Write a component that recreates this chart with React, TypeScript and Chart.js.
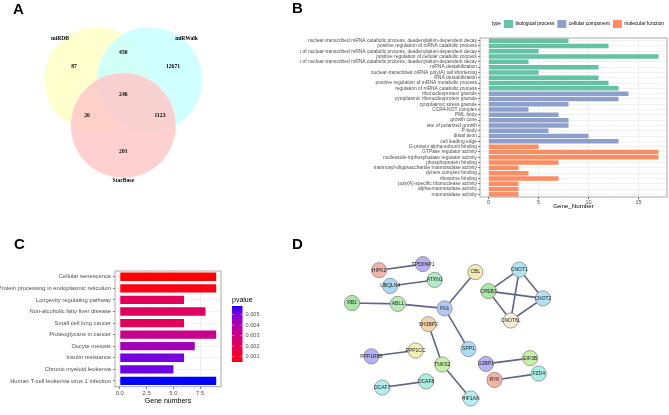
import React, { useEffect, useRef } from "react";
import { Chart, registerables } from "chart.js";
Chart.register(...registerables);
Chart.defaults.font.family = "'Liberation Sans', Arial, sans-serif";

// ---------- Panel A: Venn ----------
const vennSets = ["miRDB", "miRWalk", "StarBase"];
const vennCenterX = [-0.5, 0.5, 0];
const vennCenterY = [0.2887, 0.2887, -0.5774];
const vennRadius = 1;
const vennSetLabelX = [-1.2, 1.2, 0];
const vennSetLabelY = [1.08, 1.08, -1.63];
const vennCounts = [87, 450, 12671, 246, 26, 1123, 201];
const vennCountX = [-0.935, 0, 0.943, 0, -0.689, 0.696, 0];
const vennCountY = [0.531, 0.797, 0.531, 0, -0.398, -0.398, -1.082];

// ---------- Panel B: GO ----------
const goTerms = [
  "nuclear-transcribed mRNA catabolic process, deadenylation-dependent decay",
  "positive regulation of mRNA catabolic process",
  "regulation of nuclear-transcribed mRNA catabolic process, deadenylation-dependent decay",
  "positive regulation of cellular catabolic process",
  "positive regulation of nuclear-transcribed mRNA catabolic process, deadenylation-dependent decay",
  "mRNA destabilization",
  "nuclear-transcribed mRNA poly(A) tail shortening",
  "RNA destabilization",
  "positive regulation of mRNA metabolic process",
  "regulation of mRNA catabolic process",
  "ribonucleoprotein granule",
  "cytoplasmic ribonucleoprotein granule",
  "cytoplasmic stress granule",
  "CCR4-NOT complex",
  "PML body",
  "growth cone",
  "site of polarized growth",
  "P-body",
  "distal axon",
  "cell leading edge",
  "G-protein alpha-subunit binding",
  "GTPase regulator activity",
  "nucleoside-triphosphatase regulator activity",
  "phosphoprotein binding",
  "mannosyl-oligosaccharide mannosidase activity",
  "dynein complex binding",
  "ribosome binding",
  "poly(A)-specific ribonuclease activity",
  "alpha-mannosidase activity",
  "mannosidase activity",
];
const goCounts = [8, 12, 5, 17, 4, 11, 5, 11, 12, 13, 14, 13, 8, 4, 7, 8, 8, 6, 10, 13, 5, 17, 17, 7, 3, 4, 7, 3, 3, 3];
const goTypes = [
  "biological process", "biological process", "biological process", "biological process", "biological process",
  "biological process", "biological process", "biological process", "biological process", "biological process",
  "cellular component", "cellular component", "cellular component", "cellular component", "cellular component",
  "cellular component", "cellular component", "cellular component", "cellular component", "cellular component",
  "molecular function", "molecular function", "molecular function", "molecular function", "molecular function",
  "molecular function", "molecular function", "molecular function", "molecular function", "molecular function",
];
const goTypeNames = ["biological process", "cellular component", "molecular function"];
const goTypeColors = ["#66C2A5", "#8DA0CB", "#FC8D62"];
const goXTicks = [0, 5, 10, 15];

// ---------- Panel C: KEGG ----------
const keggTerms = [
  "Cellular senescence",
  "Protein processing in endoplasmic reticulum",
  "Longevity regulating pathway",
  "Non-alcoholic fatty liver disease",
  "Small cell lung cancer",
  "Proteoglycans in cancer",
  "Oocyte meiosis",
  "Insulin resistance",
  "Chronic myeloid leukemia",
  "Human T-cell leukemia virus 1 infection",
];
const keggCounts = [9, 9, 6, 8, 6, 9, 7, 6, 5, 9];
const keggPvalues = [0.0005, 0.0007, 0.0021, 0.0022, 0.0021, 0.0032, 0.0042, 0.0051, 0.0052, 0.0058];
const pvalueTicks = [0.001, 0.002, 0.003, 0.004, 0.005];
const keggXTicks = [0, 2.5, 5, 7.5];

// ---------- Panel D: network ----------
const nodeNames = ["HIPK2", "TP53INP1", "UBQLN4", "ATXN1", "RB1", "ABL1", "FN1", "CBL", "SH3BP2", "SPP1", "PPP1R9B", "PPP1CC", "TNKS2", "DCAF7", "DCAF8", "HIF1AN", "CNOT1", "CPEB3", "CNOT2", "CNOT6L", "G3BP1", "EIF3B", "RYK", "FZD4"];
const nodeX = [7.4, 12.0, 8.57, 13.23, 4.57, 9.37, 14.27, 17.5, 12.57, 16.77, 6.6, 11.23, 14.03, 7.73, 12.33, 17.0, 22.1, 18.87, 24.57, 21.2, 18.6, 23.23, 19.5, 24.13];
const nodeY = [3.5, 2.83, 5.23, 4.57, 7.1, 7.2, 7.7, 3.7, 9.43, 12.17, 12.97, 12.33, 13.87, 16.4, 15.73, 17.6, 3.43, 5.8, 6.6, 9.03, 13.8, 13.17, 15.57, 14.87];
const nodeColors = ["#F4B4AE", "#B8B2F2", "#AAD9F2", "#B2EBC2", "#AAE6AA", "#B8EBB8", "#B2C8F4", "#F4EBB2", "#F4D4AA", "#AADCF2", "#B2B2F2", "#F4F0B4", "#C8F0AA", "#B2F0F0", "#AAF0E2", "#B2F0F0", "#B2E4F4", "#AAE6A4", "#B2E0F4", "#F8ECD8", "#B8B2F2", "#C8F0AA", "#F4B2A4", "#AAF0E2"];
const edgeFrom = ["HIPK2", "UBQLN4", "RB1", "ABL1", "FN1", "FN1", "SH3BP2", "TNKS2", "PPP1R9B", "DCAF7", "G3BP1", "RYK", "CNOT1", "CNOT1", "CNOT1", "CPEB3", "CPEB3", "CNOT2"];
const edgeTo = ["TP53INP1", "ATXN1", "ABL1", "FN1", "CBL", "SPP1", "TNKS2", "HIF1AN", "PPP1CC", "DCAF8", "EIF3B", "FZD4", "CPEB3", "CNOT2", "CNOT6L", "CNOT2", "CNOT6L", "CNOT6L"];

// ---------- helpers ----------
function toLin(c: number) { c /= 255; return c <= 0.04045 ? c / 12.92 : Math.pow((c + 0.055) / 1.055, 2.4); }
function toSrgb(c: number) { const v = c <= 0.0031308 ? 12.92 * c : 1.055 * Math.pow(c, 1 / 2.4) - 0.055; return Math.round(Math.max(0, Math.min(1, v)) * 255); }
function rgbToLab(rgb: number[]) {
  const [r, g, b] = rgb.map(toLin);
  const X = (0.4124 * r + 0.3576 * g + 0.1805 * b) / 0.95047;
  const Y = 0.2126 * r + 0.7152 * g + 0.0722 * b;
  const Z = (0.0193 * r + 0.1192 * g + 0.9505 * b) / 1.08883;
  const f = (t: number) => (t > 0.008856 ? Math.cbrt(t) : 7.787 * t + 16 / 116);
  return [116 * f(Y) - 16, 500 * (f(X) - f(Y)), 200 * (f(Y) - f(Z))];
}
function labToRgb(lab: number[]) {
  const fy = (lab[0] + 16) / 116, fx = fy + lab[1] / 500, fz = fy - lab[2] / 200;
  const inv = (t: number) => (t > 0.206893 ? t * t * t : (t - 16 / 116) / 7.787);
  const X = inv(fx) * 0.95047, Y = inv(fy), Z = inv(fz) * 1.08883;
  const r = 3.2406 * X - 1.5372 * Y - 0.4986 * Z;
  const g = -0.9689 * X + 1.8758 * Y + 0.0415 * Z;
  const b = 0.0557 * X - 0.204 * Y + 1.057 * Z;
  return `rgb(${toSrgb(r)},${toSrgb(g)},${toSrgb(b)})`;
}
const labLow = rgbToLab([255, 0, 0]);
const labHigh = rgbToLab([0, 0, 255]);
const pMin = Math.min(...keggPvalues);
const pMax = Math.max(...keggPvalues);
function pColor(p: number) {
  const t = Math.max(0, Math.min(1, (p - pMin) / (pMax - pMin)));
  return labToRgb(labLow.map((v, i) => v + (labHigh[i] - v) * t));
}

const panelBorder = (color: string) => ({
  id: "panelBorder",
  afterDraw(chart: any) {
    const { ctx, chartArea: a } = chart;
    ctx.save();
    ctx.strokeStyle = color;
    ctx.lineWidth = 0.9;
    ctx.strokeRect(a.left, a.top, a.right - a.left, a.bottom - a.top);
    ctx.restore();
  },
});

// ---------- configs ----------
function makeVenn(): any {
  const fills = ["rgba(255,255,200,0.9)", "rgba(200,255,255,0.85)", "rgba(255,200,200,0.85)"];
  const datasets = vennSets.map((s, i) => ({
    label: s,
    data: [{ x: vennCenterX[i], y: vennCenterY[i] }],
    backgroundColor: fills[i],
    borderColor: "rgba(255,255,255,0.6)",
    borderWidth: 0.6,
    order: 3 - i,
    clip: false,
    pointRadius: (ctx: any) => {
      const s = ctx.chart.scales.x;
      return Math.abs(s.getPixelForValue(vennRadius) - s.getPixelForValue(0));
    },
  }));
  return {
    type: "scatter",
    data: { datasets },
    options: {
      animation: false, responsive: false, events: [],
      layout: { padding: 0 },
      scales: {
        x: { type: "linear", display: false, min: -2.34, max: 3.353 },
        y: { type: "linear", display: false, min: -2.562, max: 1.803 },
      },
      plugins: { legend: { display: false }, tooltip: { enabled: false } },
    },
    plugins: [{
      id: "vennText",
      afterDatasetsDraw(chart: any) {
        const { ctx, scales } = chart;
        ctx.save();
        ctx.fillStyle = "#000";
        ctx.font = "bold 5.6px 'Liberation Serif', 'Times New Roman', serif";
        ctx.textAlign = "center";
        ctx.textBaseline = "middle";
        vennCounts.forEach((c, i) => ctx.fillText(String(c), scales.x.getPixelForValue(vennCountX[i]), scales.y.getPixelForValue(vennCountY[i])));
        vennSets.forEach((s, i) => ctx.fillText(s, scales.x.getPixelForValue(vennSetLabelX[i]), scales.y.getPixelForValue(vennSetLabelY[i])));
        ctx.restore();
      },
    }],
  };
}

function makeGO(): any {
  const datasets = goTypeNames.map((t, k) => ({
    label: t,
    data: goCounts.map((v, i) => (goTypes[i] === t ? v : null)),
    backgroundColor: goTypeColors[k],
    barPercentage: 0.85,
    categoryPercentage: 1,
    grouped: false,
  }));
  return {
    type: "bar",
    data: { labels: goTerms, datasets },
    options: {
      animation: false, responsive: false, events: [],
      indexAxis: "y",
      layout: { padding: { top: 17, right: 2, left: 0, bottom: 20.3 } },
      scales: {
        y: {
          type: "category",
          afterFit: (s: any) => { s.width = 180; },
          ticks: { autoSkip: false, font: { size: 4.9 }, color: "#4D4D4D", padding: 1 },
          grid: { offset: false, color: "#EEEEEE", lineWidth: 0.8, tickLength: 2, tickColor: "#555" },
          border: { display: false },
        },
        x: {
          type: "linear", min: -0.85, max: 17.85,
          afterFit: (s: any) => { s.height = 12.7; },
          ticks: {
            stepSize: 2.5, includeBounds: false, autoSkip: false, maxRotation: 0,
            font: { size: 5.5 }, color: "#4D4D4D", padding: 0,
            callback: (v: any) => (goXTicks.includes(Number(v)) ? String(v) : ""),
          },
          grid: {
            color: (c: any) => (c.tick && goXTicks.includes(c.tick.value) ? "#EBEBEB" : "#F4F4F4"),
            lineWidth: (c: any) => (c.tick && goXTicks.includes(c.tick.value) ? 0.9 : 0.5),
            tickLength: 2,
            tickColor: (c: any) => (c.tick && goXTicks.includes(c.tick.value) ? "#555" : "rgba(0,0,0,0)"),
          },
          border: { display: false },
          title: { display: true, text: "Gene_Number", font: { size: 6.2 }, color: "#000", padding: { top: 0, bottom: 0 } },
        },
      },
      plugins: {
        tooltip: { enabled: false },
        legend: {
          display: true, position: "top", align: "end",
          labels: {
            boxWidth: 9, boxHeight: 8, padding: 3, font: { size: 4.9 }, color: "#000",
            generateLabels: () => [
              { text: "type", fillStyle: "rgba(0,0,0,0)", strokeStyle: "rgba(0,0,0,0)", lineWidth: 0, hidden: false, datasetIndex: -1, fontColor: "#000" },
              ...goTypeNames.map((t, k) => ({ text: t, fillStyle: goTypeColors[k], strokeStyle: goTypeColors[k], lineWidth: 0, hidden: false, datasetIndex: k, fontColor: "#000" })),
            ],
          },
        },
      },
    },
    plugins: [panelBorder("#A0A0A0")],
  };
}

function makeKEGG(): any {
  return {
    type: "bar",
    data: {
      labels: keggTerms,
      datasets: [{
        label: "Gene numbers",
        data: keggCounts,
        backgroundColor: keggPvalues.map(pColor),
        barPercentage: 0.72,
        categoryPercentage: 1,
      }],
    },
    options: {
      animation: false, responsive: false, events: [],
      indexAxis: "y",
      layout: { padding: { top: 41, right: 79, left: 0, bottom: 10.1 } },
      scales: {
        y: {
          type: "category",
          afterFit: (s: any) => { s.width = 115; },
          ticks: { autoSkip: false, font: { size: 5.8 }, color: "#4D4D4D", padding: 2 },
          grid: { offset: false, color: "#EEEEEE", lineWidth: 0.8, tickLength: 2, tickColor: "#555" },
          border: { display: false },
        },
        x: {
          type: "linear", min: -0.45, max: 9.45,
          afterFit: (s: any) => { s.height = 18.2; },
          ticks: {
            stepSize: 1.25, includeBounds: false, autoSkip: false, maxRotation: 0,
            font: { size: 5.8 }, color: "#4D4D4D", padding: 1,
            callback: (v: any) => (keggXTicks.includes(Number(v)) ? Number(v).toFixed(1) : ""),
          },
          grid: {
            color: (c: any) => (c.tick && keggXTicks.includes(c.tick.value) ? "#EBEBEB" : "#F4F4F4"),
            lineWidth: (c: any) => (c.tick && keggXTicks.includes(c.tick.value) ? 0.9 : 0.5),
            tickLength: 2,
            tickColor: (c: any) => (c.tick && keggXTicks.includes(c.tick.value) ? "#555" : "rgba(0,0,0,0)"),
          },
          border: { display: false },
          title: { display: true, text: "Gene numbers", font: { size: 7 }, color: "#000", padding: { top: 0, bottom: 0 } },
        },
      },
      plugins: { legend: { display: false }, tooltip: { enabled: false } },
    },
    plugins: [panelBorder("#A0A0A0"), {
      id: "colorbar",
      afterDraw(chart: any) {
        const { ctx, chartArea: a } = chart;
        const x0 = a.right + 11, w = 10.5;
        const top = a.top + 35, bottom = top + 56;
        const grad = ctx.createLinearGradient(0, bottom, 0, top);
        for (let i = 0; i <= 40; i++) {
          const p = pMin + (pMax - pMin) * (i / 40);
          grad.addColorStop(i / 40, pColor(p));
        }
        ctx.save();
        ctx.fillStyle = grad;
        ctx.fillRect(x0, top, w, bottom - top);
        ctx.fillStyle = "#000";
        ctx.font = "7px 'Liberation Sans', Arial, sans-serif";
        ctx.textAlign = "left";
        ctx.textBaseline = "alphabetic";
        ctx.fillText("pvalue", x0, top - 4);
        ctx.font = "5.6px 'Liberation Sans', Arial, sans-serif";
        ctx.fillStyle = "#4D4D4D";
        ctx.textBaseline = "middle";
        ctx.strokeStyle = "rgba(255,255,255,0.9)";
        ctx.lineWidth = 0.5;
        pvalueTicks.forEach((p) => {
          const y = bottom - ((p - pMin) / (pMax - pMin)) * (bottom - top);
          ctx.beginPath();
          ctx.moveTo(x0, y); ctx.lineTo(x0 + 1.8, y);
          ctx.moveTo(x0 + w - 1.8, y); ctx.lineTo(x0 + w, y);
          ctx.stroke();
          ctx.fillText(p.toFixed(3), x0 + w + 3, y);
        });
        ctx.restore();
      },
    }],
  };
}

function makeNetwork(): any {
  const idx = (n: string) => nodeNames.indexOf(n);
  const edgeSets = edgeFrom.map((f, i) => ({
    type: "scatter",
    label: f + "-" + edgeTo[i],
    data: [{ x: nodeX[idx(f)], y: nodeY[idx(f)] }, { x: nodeX[idx(edgeTo[i])], y: nodeY[idx(edgeTo[i])] }],
    showLine: true,
    borderColor: "#5E6586",
    borderWidth: 1.6,
    pointRadius: 0,
    clip: false,
  }));
  const nodes = {
    type: "scatter",
    label: "nodes",
    data: nodeNames.map((n, i) => ({ x: nodeX[i], y: nodeY[i] })),
    pointRadius: 7.6,
    pointBackgroundColor: nodeColors,
    pointBorderColor: "#8A8A8A",
    pointBorderWidth: 0.8,
    clip: false,
  };
  return {
    type: "scatter",
    data: { datasets: [nodes, ...edgeSets] },
    options: {
      animation: false, responsive: false, events: [],
      layout: { padding: 0 },
      scales: {
        x: { type: "linear", display: false, min: 0, max: 36.9 },
        y: { type: "linear", display: false, min: 0, max: 18.5, reverse: true },
      },
      plugins: { legend: { display: false }, tooltip: { enabled: false } },
    },
    plugins: [{
      id: "nodeLabels",
      afterDatasetsDraw(chart: any) {
        const { ctx } = chart;
        const meta = chart.getDatasetMeta(0);
        ctx.save();
        ctx.fillStyle = "#222";
        ctx.font = "5px 'Liberation Sans', Arial, sans-serif";
        ctx.textAlign = "center";
        ctx.textBaseline = "middle";
        meta.data.forEach((pt: any, i: number) => ctx.fillText(nodeNames[i], pt.x, pt.y));
        ctx.restore();
      },
    }],
  };
}

function ChartBox({ left, top, width, height, make }: { left: number; top: number; width: number; height: number; make: () => any }) {
  const ref = useRef<HTMLCanvasElement>(null);
  useEffect(() => {
    const chart = new Chart(ref.current as HTMLCanvasElement, make());
    return () => chart.destroy();
  }, []);
  return (
    <div style={{ position: "absolute", left, top, width, height, overflow: "hidden" }}>
      <canvas ref={ref} width={width} height={height} style={{ width, height, display: "block" }} />
    </div>
  );
}

const letterStyle: React.CSSProperties = {
  position: "absolute", fontFamily: "'Liberation Sans', Arial, sans-serif", fontWeight: "bold",
  fontSize: 15, lineHeight: "15px", color: "#000",
};

export default function App() {
  return (
    <div style={{ position: "absolute", left: 0, top: 0, width: 669, height: 415, background: "#fff", overflow: "hidden" }}>
      <ChartBox left={0} top={0} width={300} height={230} make={makeVenn} />
      <ChartBox left={300} top={0} width={369} height={230} make={makeGO} />
      <ChartBox left={0} top={230} width={300} height={185} make={makeKEGG} />
      <ChartBox left={300} top={230} width={369} height={185} make={makeNetwork} />
      <div style={{ ...letterStyle, left: 13, top: 1 }}>A</div>
      <div style={{ ...letterStyle, left: 292, top: 0 }}>B</div>
      <div style={{ ...letterStyle, left: 14, top: 236 }}>C</div>
      <div style={{ ...letterStyle, left: 292, top: 236 }}>D</div>
    </div>
  );
}
